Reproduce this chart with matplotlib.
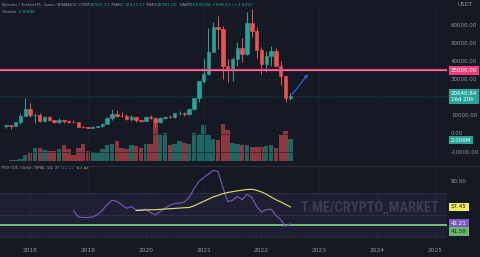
import matplotlib
matplotlib.use("Agg")
import matplotlib.pyplot as plt
import matplotlib.transforms as mtransforms
from matplotlib.lines import Line2D
from matplotlib import font_manager

# ---------------- data ----------------
months = ["2017-08", "2017-09", "2017-10", "2017-11", "2017-12",
          "2018-01", "2018-02", "2018-03", "2018-04", "2018-05", "2018-06",
          "2018-07", "2018-08", "2018-09", "2018-10", "2018-11", "2018-12",
          "2019-01", "2019-02", "2019-03", "2019-04", "2019-05", "2019-06",
          "2019-07", "2019-08", "2019-09", "2019-10", "2019-11", "2019-12",
          "2020-01", "2020-02", "2020-03", "2020-04", "2020-05", "2020-06",
          "2020-07", "2020-08", "2020-09", "2020-10", "2020-11", "2020-12",
          "2021-01", "2021-02", "2021-03", "2021-04", "2021-05", "2021-06",
          "2021-07", "2021-08", "2021-09", "2021-10", "2021-11", "2021-12",
          "2022-01", "2022-02", "2022-03", "2022-04", "2022-05", "2022-06",
          "2022-07"]
opens = [4261, 4690, 4378, 6463, 9837, 13716, 10285, 10326, 6922, 9246, 7485,
         6391, 7736, 7011, 6627, 6370, 4041, 3701, 3434, 3814, 4102, 5322,
         8555, 10854, 10081, 9589, 8290, 9141, 7541, 7195, 9352, 8524, 6412,
         8620, 9448, 9138, 11335, 11650, 10777, 13791, 19696, 28924, 33093,
         45134, 58739, 57697, 37254, 35045, 41462, 47101, 43820, 61300, 56951,
         46217, 38467, 43160, 45510, 37632, 31801, 19942.21]
highs = [4745, 4939, 6470, 11300, 19799, 17176, 11786, 11710, 9760, 10020, 7787,
         8492, 7750, 7410, 7680, 6615, 4314, 4070, 4198, 4140, 5600, 9074,
         13970, 13147, 12325, 10906, 10370, 9513, 7750, 9578, 10500, 9188, 9460,
         10067, 10380, 11444, 12468, 12051, 14100, 19863, 29300, 41950, 58353,
         61844, 64854, 59592, 41330, 42448, 50500, 52920, 67000, 69000, 59054,
         47990, 45821, 48190, 47444, 39980, 31983, 22527.17]
lows = [3400, 2817, 4110, 5325, 9722, 9035, 6000, 6600, 6430, 7033, 5750,
        6070, 5880, 6111, 6205, 3653, 3156, 3350, 3373, 3671, 4067, 5274,
        7445, 9071, 9320, 7710, 7300, 6515, 6435, 6871, 8445, 3782, 6150,
        8117, 8833, 8893, 10519, 9825, 10374, 13195, 17572, 28130, 32296,
        45000, 47044, 30000, 28805, 29278, 37333, 39600, 43283, 53257, 42000,
        32917, 34322, 37155, 37578, 26700, 17622, 18781.00]
closes = [4725, 4379, 6463, 9839, 13716, 10285, 10327, 6924, 9246, 7485, 6391,
          7731, 7011, 6627, 6372, 4041, 3703, 3434, 3814, 4104, 5321, 8555,
          10854, 10081, 9587, 8289, 9141, 7542, 7195, 9353, 8524, 6410, 8620,
          9448, 9139, 11335, 11650, 10777, 13791, 19696, 28924, 33093, 45136,
          58741, 57694, 37254, 35045, 41462, 47101, 43824, 61300, 56951, 46217,
          38467, 43160, 45510, 37631, 31801, 19942, 20640.84]
volumes_k = [60, 90, 120, 245, 550, 790, 1215, 1215, 1000, 910, 910,
             1095, 1460, 1155, 610, 1215, 1550, 910, 850, 790, 1155, 1460,
             1615, 1850, 1215, 1155, 1460, 1395, 1215, 1615, 1580, 3895, 2525,
             2615, 1520, 1615, 1825, 1705, 1550, 2615, 2460, 3345, 2435,
             2070, 1915, 3440, 2825, 1705, 1615, 1520, 1520, 1305, 1305,
             1305, 1395, 1520, 1215, 2370, 2735, 2006]
rsi = [None] * 14 + [54.0, 48.5, 48.0, 48.0, 48.5, 50.5, 54.5, 59.5, 63.5,
                     62.5, 59.5, 56.3, 57.8, 54.8, 55.0, 55.4, 52.5, 50.3,
                     53.5, 56.5, 59.0, 60.8, 60.8, 62.0, 66.0, 74.0, 80.3,
                     84.0, 87.0, 90.5, 89.5, 75.0, 62.3, 63.5, 67.0, 64.0,
                     69.0, 66.0, 58.0, 53.0, 55.0, 55.5, 50.0, 46.0, 40.0,
                     42.21]
rsi_sma = [None] * 27 + [54.2, 54.5, 54.8, 55.0, 55.0, 55.3, 55.6, 55.9, 56.2,
                         56.5, 56.8, 57.0, 58.5, 60.5, 62.5, 64.5, 66.5, 68.0,
                         69.5, 70.5, 71.3, 72.0, 72.6, 73.2, 73.4, 72.5, 71.0,
                         69.0, 66.5, 64.0, 62.0, 59.8, 57.45]
year_labels = ["2018", "2019", "2020", "2021", "2022", "2023", "2024", "2025"]
price_ticks = [60000, 50000, 40000, 30000, 10000, 0, -10000]
level_price = 35000
rsi_level = 41.59
arrow_start = ("2022-07", 20400)
arrow_end = ("2022-11", 34100)

# ---------------- style ----------------
BG = "#151924"
GRID = "#1c2030"
TXT = "#9598a1"
GREEN = "#26a69a"
RED = "#ef5350"
PINK = "#ec407a"
PURPLE = "#7e57c2"
YELLOW = "#e8e26a"
LGREEN = "#66bb6a"
BLUE = "#2962ff"

W, H = 480, 257
fig = plt.figure(figsize=(W / 100, H / 100), dpi=100, facecolor=BG)
right = 447 / W


def midx(s):
    y, m = s.split("-")
    return (int(y) - 2017) * 12 + int(m) - 8


xs = [midx(m) for m in months]
XL = (-1.245, 91.5)

# volume axes (behind)
axv = fig.add_axes([0, 1 - 165 / H, right, 165 / H])
axv.set_facecolor(BG)
axv.set_xlim(*XL)
axv.set_ylim(-3.7 * 91.2, 161.3 * 91.2)
for x, o, c, v in zip(xs, opens, closes, volumes_k):
    axv.bar(x, v, width=0.92, color=GREEN if c >= o else RED, alpha=0.55,
            linewidth=0)
axv.axis("off")

# main price axes
ax = fig.add_axes([0, 1 - 165 / H, right, 165 / H])
ax.patch.set_visible(False)
ax.set_xlim(*XL)
ax.set_ylim(-17150, 73800)
for t in range(-10000, 80000, 10000):
    ax.axhline(t, color=GRID, lw=0.5, zorder=0)
for yl in year_labels:
    ax.axvline(midx(yl + "-01"), color=GRID, lw=0.5, zorder=0)
for x, o, h, l, c in zip(xs, opens, highs, lows, closes):
    col = GREEN if c >= o else RED
    ax.vlines(x, l, h, color=col, lw=0.7, zorder=2)
    ax.bar(x, c - o, bottom=o, width=0.72, color=col, edgecolor=col,
           linewidth=0.4, zorder=3)
ax.axhline(level_price, color=PINK, lw=1.6, zorder=4)
ax.axhline(level_price, color="#f8a0c0", lw=0.4, zorder=4)
ax.axhline(closes[-1], color=GREEN, lw=0.5, ls=(0, (1, 2)), alpha=0.6, zorder=1)
ax.annotate("", xy=(midx(arrow_end[0]), arrow_end[1]),
            xytext=(midx(arrow_start[0]), arrow_start[1]),
            arrowprops=dict(arrowstyle="->", color=BLUE, lw=0.8,
                            mutation_scale=5), zorder=5)
ax.axis("off")

# RSI axes
axr = fig.add_axes([0, 1 - 243 / H, right, 77 / H])
axr.set_facecolor(BG)
axr.set_xlim(*XL)
axr.set_ylim(25.0, 94.4)
for yl in year_labels:
    axr.axvline(midx(yl + "-01"), color=GRID, lw=0.5, zorder=0)
axr.axhspan(30, 70, color=PURPLE, alpha=0.1, lw=0)
for lv in (70, 50, 30):
    axr.axhline(lv, color="#787b86", lw=0.5, ls=(0, (2, 2)), alpha=0.5)
rx = [x for x, v in zip(xs, rsi) if v is not None]
ry = [v for v in rsi if v is not None]
sx = [x for x, v in zip(xs, rsi_sma) if v is not None]
sy = [v for v in rsi_sma if v is not None]
axr.plot(rx, ry, color=PURPLE, lw=0.8, zorder=3)
axr.plot(sx, sy, color=YELLOW, lw=0.8, zorder=3)
axr.axhline(rsi_level, color=LGREEN, lw=1.4, zorder=2)
axr.axhline(rsi_level, color="#a5d6a7", lw=0.3, zorder=2)

avail = {f.name for f in font_manager.fontManager.ttflist}
wm_font = None
for cand in ["Liberation Sans Narrow", "DejaVu Sans Condensed",
             "Roboto Condensed", "Open Sans Condensed"]:
    if cand in avail:
        wm_font = cand
        break
if wm_font:
    axr.text(370 / 447, 0.45, "T.ME/CRYPTO_MARKET", transform=axr.transAxes,
             family=wm_font, fontsize=10.3, fontweight="bold", color="#383d58",
             ha="center", va="center", zorder=1)
else:
    axr.text(370 / 447, 0.45, "T.ME/CRYPTO_MARKET", transform=axr.transAxes,
             family="DejaVu Sans", fontsize=8, fontweight="bold",
             color="#383d58", ha="center", va="center", zorder=1)
axr.axis("off")

# pane separator
fig.add_artist(Line2D([0, 1], [1 - 165.5 / H] * 2, color="#2a2e39", lw=0.8))

# x labels
for yl in year_labels:
    xf = (midx(yl + "-01") - XL[0]) / (XL[1] - XL[0]) * right
    fig.text(xf, 1 - 250 / H, yl, color=TXT, fontsize=4.2, ha="center",
             va="center")

# price axis labels
tr_main = mtransforms.blended_transform_factory(fig.transFigure, ax.transData)
tr_rsi = mtransforms.blended_transform_factory(fig.transFigure, axr.transData)
LX = 451 / W
fig.text(LX + 6 / W, 1 - 4 / H, "USDT", color=TXT, fontsize=4.0, va="center")
for p in price_ticks:
    fig.text(LX, p, f"{p:.2f}", transform=tr_main, color=TXT, fontsize=4.0,
             va="center")
fig.text(LX, level_price, f"{level_price:.2f}", transform=tr_main,
         color="white", fontsize=4.0, va="center",
         bbox=dict(boxstyle="square,pad=0.35", fc=PINK, ec="none"))
fig.text(LX, closes[-1], f"{closes[-1]:.2f}\n16d 20h", transform=tr_main,
         color="white", fontsize=4.0, va="center", linespacing=1.3,
         bbox=dict(boxstyle="square,pad=0.35", fc=GREEN, ec="none"))
fig.text(LX, 1 - 140 / H, f"{volumes_k[-1] / 1000:.3f}M", color="white",
         fontsize=4.0, va="center",
         bbox=dict(boxstyle="square,pad=0.35", fc=GREEN, ec="none"))
fig.text(LX, 80, "80.00", transform=tr_rsi, color=TXT, fontsize=4.0,
         va="center")
fig.text(LX, rsi_sma[-1], f"{rsi_sma[-1]:.2f}", transform=tr_rsi,
         color="#131722", fontsize=4.0, va="center",
         bbox=dict(boxstyle="square,pad=0.35", fc="#f5ee5a", ec="none"))
fig.text(LX, rsi[-1], f"{rsi[-1]:.2f}", transform=tr_rsi, color="white",
         fontsize=4.0, va="center",
         bbox=dict(boxstyle="square,pad=0.35", fc=PURPLE, ec="none"))
fig.text(LX, rsi_level - 6, f"{rsi_level:.2f}", transform=tr_rsi,
         color="#131722", fontsize=4.0, va="center",
         bbox=dict(boxstyle="square,pad=0.35", fc=LGREEN, ec="none"))

# header legend
FS = 3.2
t = fig.text(2 / W, 1 - 7 / H, "Bitcoin / TetherUS, 1мес, BINANCE", color=TXT,
             fontsize=FS, va="bottom")
pieces = [(" ОТКР", TXT), (f"{opens[-1]:.2f}", GREEN), (" МАКС", TXT),
          (f"{highs[-1]:.2f}", GREEN), (" МИН", TXT), (f"{lows[-1]:.2f}", GREEN),
          (" ЗАКР", TXT),
          (f"{closes[-1]:.2f} +{closes[-1] - opens[-1]:.2f} "
           f"(+{(closes[-1] - opens[-1]) / opens[-1] * 100:.2f}%)", GREEN)]
prev = t
for s, col in pieces:
    prev = ax.annotate(s, xy=(1, 0), xycoords=prev, va="bottom", ha="left",
                       color=col, fontsize=FS)
t2 = fig.text(2 / W, 1 - 14 / H, "Объём", color=TXT, fontsize=FS,
              va="bottom")
ax.annotate(f" {volumes_k[-1] / 1000:.3f}M", xy=(1, 0), xycoords=t2,
            va="bottom", ha="left", color=GREEN, fontsize=FS)

# RSI legend
t3 = fig.text(2 / W, 1 - 170 / H, "RSI (14, close, SMA, 14, 2)", color=TXT,
              fontsize=FS, va="bottom")
a1 = ax.annotate(f"  {rsi[-1]:.2f}", xy=(1, 0), xycoords=t3, va="bottom",
                 ha="left", color=PURPLE, fontsize=FS)
ax.annotate(f"  {rsi_sma[-1]:.2f}", xy=(1, 0), xycoords=a1, va="bottom",
            ha="left", color=YELLOW, fontsize=FS)

fig.savefig("out.png", dpi=100, facecolor=BG)
